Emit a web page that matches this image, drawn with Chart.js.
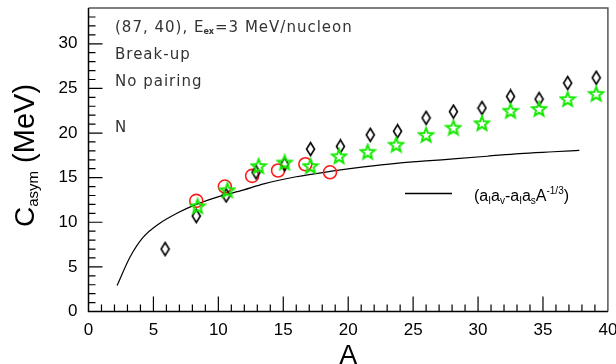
<!DOCTYPE html>
<html>
<head>
<meta charset="utf-8">
<script src="https://cdn.jsdelivr.net/npm/chart.js@4.4.0/dist/chart.umd.min.js"></script>
<style>
  html, body { margin: 0; padding: 0; background: #fff; }
  canvas { display: block; }
</style>
</head>
<body>
<canvas id="casym-chart" width="616" height="364"></canvas>
<script>
// break-up, no pairing: black diamonds
var diamondA = [5.9, 8.3, 10.6, 12.9, 15.1, 17.1, 19.4, 21.7, 23.8, 26.0, 28.1, 30.3, 32.5, 34.7, 36.9, 39.1];
var diamondC = [7.0, 10.7, 13.0, 15.6, 16.5, 18.2, 18.5, 19.8, 20.2, 21.7, 22.4, 22.8, 24.1, 23.8, 25.6, 26.2];

// green stars
var starA = [8.4, 10.7, 13.1, 15.1, 17.1, 19.3, 21.5, 23.7, 26.0, 28.1, 30.3, 32.5, 34.7, 36.9, 39.1];
var starC = [11.8, 13.6, 16.3, 16.7, 16.3, 17.4, 17.9, 18.7, 19.8, 20.6, 21.1, 22.5, 22.7, 23.8, 24.4];

// red circles
var circleA = [8.3, 10.5, 12.6, 14.6, 16.7, 18.6];
var circleC = [12.4, 14.0, 15.2, 15.8, 16.5, 15.6];

// (aI av - aI as A^-1/3) curve
var curveA = [2.2, 3.2, 4.2, 5.5, 6.8, 8.3, 10.1, 11.9, 13.5, 16.0, 18.6, 21.2, 23.7, 26.3, 28.1, 30.7, 33.2, 35.8, 37.8];
var curveC = [2.9, 6.1, 8.3, 9.9, 11.0, 12.0, 12.9, 13.6, 14.3, 15.1, 15.7, 16.2, 16.6, 16.9, 17.1, 17.4, 17.7, 17.9, 18.05];

var xTicks = [0, 5, 10, 15, 20, 25, 30, 35, 40];
var yTicks = [0, 5, 10, 15, 20, 25, 30];

var labelFont = '"Liberation Sans", Arial, sans-serif';
var noteFont = '"DejaVu Sans", sans-serif';

function toPoints(xs, ys) {
	return xs.map(function (x, i) { return {x: x, y: ys[i]}; });
}

function makeDiamond() {
	var c = document.createElement('canvas');
	c.width = 11; c.height = 16;
	var g = c.getContext('2d');
	g.strokeStyle = '#000';
	g.lineWidth = 1.6;
	g.beginPath();
	g.moveTo(5.5, 1.5);
	g.lineTo(9.5, 8);
	g.lineTo(5.5, 14.5);
	g.lineTo(1.5, 8);
	g.closePath();
	g.stroke();
	return c;
}

function makeStar() {
	var c = document.createElement('canvas');
	c.width = 18; c.height = 18;
	var g = c.getContext('2d');
	g.strokeStyle = '#14ea00';
	g.lineWidth = 2;
	g.beginPath();
	for (var i = 0; i < 10; i++) {
		var r = i % 2 ? 3.2 : 7.4;
		var a = -Math.PI / 2 + i * Math.PI / 5;
		var px = 9 + r * Math.cos(a), py = 9.6 + r * Math.sin(a);
		if (i == 0) g.moveTo(px, py); else g.lineTo(px, py);
	}
	g.closePath();
	g.stroke();
	return c;
}

// draws a run of text pieces with sub/superscripts, left to right
function drawRich(ctx, x, y, parts) {
	parts.forEach(function (p) {
		ctx.font = p.font;
		ctx.fillText(p.t, x, y + (p.dy || 0));
		x += ctx.measureText(p.t).width;
	});
	return x;
}

var decorations = {
	id: 'decorations',
	afterDraw: function (chart) {
		var ctx = chart.ctx;
		var area = chart.chartArea;
		var xs = chart.scales.x, ys = chart.scales.y;
		ctx.save();

		// inward tick marks, minor every unit
		ctx.strokeStyle = '#000';
		ctx.lineWidth = 1.2;
		ctx.beginPath();
		for (var v = 1; v < 40; v++) {
			var tx = xs.getPixelForValue(v);
			var len = v % 5 == 0 ? 15 : 7;
			ctx.moveTo(tx, area.bottom);
			ctx.lineTo(tx, area.bottom - len);
		}
		for (var w = 1; w <= 33; w++) {
			var ty = ys.getPixelForValue(w);
			var l2 = w % 5 == 0 ? 14 : 7;
			ctx.moveTo(area.left, ty);
			ctx.lineTo(area.left + l2, ty);
		}
		ctx.stroke();

		// frame
		ctx.strokeStyle = '#555';
		ctx.lineWidth = 1.5;
		ctx.beginPath();
		ctx.moveTo(area.left, area.top);
		ctx.lineTo(area.right, area.top);
		ctx.lineTo(area.right, area.bottom);
		ctx.stroke();
		ctx.strokeStyle = '#000';
		ctx.beginPath();
		ctx.moveTo(area.left, area.top);
		ctx.lineTo(area.left, area.bottom);
		ctx.lineTo(area.right, area.bottom);
		ctx.stroke();

		// notes in the upper left
		ctx.fillStyle = '#333';
		ctx.textBaseline = 'alphabetic';
		ctx.textAlign = 'left';
		ctx.letterSpacing = '1px';
		var end = drawRich(ctx, 115, 32, [{t: '(87, 40), E', font: '15px ' + noteFont}]);
		ctx.letterSpacing = '0px';
		end = drawRich(ctx, end - 1, 32, [{t: 'ex', font: 'bold 8px ' + noteFont, dy: 2}]);
		ctx.letterSpacing = '1px';
		drawRich(ctx, end + 1, 32, [{t: '=3 MeV/nucleon', font: '15px ' + noteFont}]);
		drawRich(ctx, 115, 59, [{t: 'Break-up', font: '15px ' + noteFont}]);
		drawRich(ctx, 115, 86, [{t: 'No pairing', font: '15px ' + noteFont}]);
		drawRich(ctx, 115, 132, [{t: 'N', font: '15px ' + noteFont}]);
		ctx.letterSpacing = '0px';

		// legend for the curve
		ctx.strokeStyle = '#000';
		ctx.lineWidth = 1.5;
		ctx.beginPath();
		ctx.moveTo(405, 193.5);
		ctx.lineTo(452, 193.5);
		ctx.stroke();
		ctx.fillStyle = '#000';
		var f = '16px ' + labelFont, s = '10px ' + labelFont;
		drawRich(ctx, 474, 201, [
			{t: '(a', font: f}, {t: 'I', font: s, dy: 3},
			{t: 'a', font: f}, {t: 'v', font: s, dy: 3},
			{t: '-a', font: f}, {t: 'I', font: s, dy: 3},
			{t: 'a', font: f}, {t: 's', font: s, dy: 3},
			{t: 'A', font: f}, {t: '-1/3', font: s, dy: -7},
			{t: ')', font: f}
		]);

		// axis titles
		ctx.font = '27px ' + labelFont;
		ctx.textAlign = 'center';
		ctx.fillText('A', xs.getPixelForValue(20), 364);

		ctx.textAlign = 'left';
		ctx.translate(33.5, 227);
		ctx.rotate(-Math.PI / 2);
		drawRich(ctx, 0, 0, [
			{t: 'C', font: '28px ' + labelFont},
			{t: 'asym', font: '15px ' + labelFont, dy: 4},
			{t: ' (MeV)', font: '29px ' + labelFont}
		]);
		ctx.restore();
	}
};

var ctx = document.getElementById('casym-chart');
var casymChart = new Chart(ctx, {
	type: 'scatter',
	data: {
		datasets: [{
			type: 'line',
			data: toPoints(curveA, curveC),
			borderColor: '#000',
			borderWidth: 1.2,
			pointRadius: 0,
			cubicInterpolationMode: 'monotone',
			fill: false,
			order: 4
		}, {
			data: toPoints(circleA, circleC),
			pointStyle: 'circle',
			pointRadius: 6.5,
			borderColor: '#ff1a1a',
			backgroundColor: 'rgba(0,0,0,0)',
			borderWidth: 1.6,
			order: 3
		}, {
			data: toPoints(diamondA, diamondC),
			pointStyle: makeDiamond(),
			order: 2
		}, {
			data: toPoints(starA, starC),
			pointStyle: makeStar(),
			order: 1
		}]
	},
	options: {
		responsive: false,
		animation: false,
		events: [],
		layout: {padding: {top: 5, right: 8, left: 0, bottom: 0}},
		plugins: {legend: {display: false}, tooltip: {enabled: false}},
		scales: {
			x: {
				type: 'linear',
				min: 0, max: 40,
				afterBuildTicks: function (scale) {
					scale.ticks = xTicks.map(function (v) { return {value: v}; });
				},
				afterFit: function (scale) {
					scale.height = 52.5;
					scale.paddingLeft = 0;
					scale.paddingRight = 0;
				},
				grid: {display: false, drawTicks: false},
				border: {display: false},
				ticks: {
					padding: 9,
					maxRotation: 0,
					color: '#000',
					font: {family: labelFont, size: 17}
				}
			},
			y: {
				type: 'linear',
				min: 0, max: 34,
				afterBuildTicks: function (scale) {
					scale.ticks = yTicks.map(function (v) { return {value: v}; });
				},
				afterFit: function (scale) {
					scale.width = 88.5;
					scale.paddingTop = 0;
					scale.paddingBottom = 0;
				},
				grid: {display: false, drawTicks: false},
				border: {display: false},
				ticks: {
					padding: 11,
					color: '#000',
					font: {family: labelFont, size: 17}
				}
			}
		}
	},
	plugins: [decorations]
});
</script>
</body>
</html>
